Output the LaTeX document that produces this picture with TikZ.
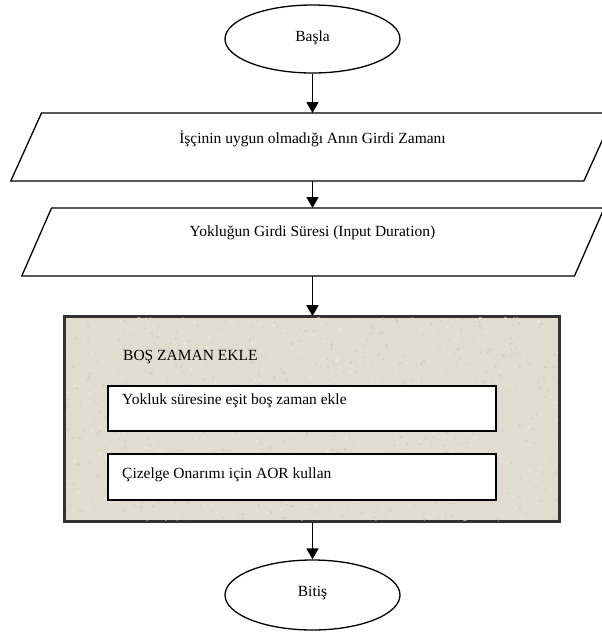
\documentclass[tikz,border=0pt]{standalone}
\usepackage{fontspec}
\setmainfont{Liberation Serif}
\usetikzlibrary{shapes.geometric,arrows.meta,calc}
\definecolor{parchment}{RGB}{226,219,207}
\definecolor{parchmentdark}{RGB}{205,196,181}
\definecolor{parchmentlight}{RGB}{238,233,224}
\definecolor{frameedge}{RGB}{50,50,50}
\begin{document}
\begin{tikzpicture}[x=1pt,y=-1pt,
  every node/.style={font=\fontsize{15.5}{18}\selectfont},
  terminal/.style={draw, ellipse, line width=1.3pt, minimum width=175pt, minimum height=68pt, inner sep=0pt},
  ioarea/.style={rectangle, minimum height=67.5pt, inner sep=0pt},
  ioedge/.style={line width=1.3pt, line join=miter},
  container/.style={rectangle, draw=frameedge, fill=parchment, line width=1.6pt, inner sep=0pt},
  stepbox/.style={rectangle, draw, fill=white, line width=1.5pt, minimum width=388pt, inner sep=0pt},
  plain/.style={inner sep=0pt},
  flow/.style={-{Triangle[length=11pt,width=12pt]}, line width=1.8pt}
]
\useasboundingbox (0,0) rectangle (602,633);
\clip (0,0) rectangle (602,633);

% start / end terminals
\node[terminal] (start) at (312.5,39) {};
\node[plain] (starttxt) at (312.5,38) {Başla};

% first input: slanted parallelogram around an invisible frame
\node[ioarea, minimum width=572.7pt] (in1) at (312.7,147) {};
\draw[ioedge] ($(in1.north west)+(15.35,0)$) -- ($(in1.north east)+(15.35,0)$)
  -- ($(in1.south east)+(-15.35,0)$) -- ($(in1.south west)+(-15.35,0)$) -- cycle;
\node[plain] (in1txt) at (312.5,139) {İşçinin uygun olmadığı Anın Girdi Zamanı};

% second input
\node[ioarea, minimum width=552.3pt] (in2) at (313,242) {};
\draw[ioedge] ($(in2.north west)+(14.85,0)$) -- ($(in2.north east)+(14.85,0)$)
  -- ($(in2.south east)+(-14.85,0)$) -- ($(in2.south west)+(-14.85,0)$) -- cycle;
\node[plain] (in2txt) at (312.5,233) {Yokluğun Girdi Süresi (Input Duration)};

% process container with paper texture
\node[container, minimum width=494pt, minimum height=204pt] (proc) at (312,419) {};
\begin{scope}
  \clip (65.8,317.5) rectangle (558.2,520);
  \pgfmathsetseed{4242}
  \foreach \i in {1,...,700} {
    \pgfmathsetmacro{\px}{65+rnd*494}
    \pgfmathsetmacro{\py}{317+rnd*204}
    \pgfmathsetmacro{\pr}{0.5+rnd*1.1}
    \fill[parchmentdark, opacity=0.55] (\px,\py) circle[radius=\pr];
  }
  \foreach \i in {1,...,500} {
    \pgfmathsetmacro{\px}{65+rnd*494}
    \pgfmathsetmacro{\py}{317+rnd*204}
    \pgfmathsetmacro{\pr}{0.6+rnd*1.3}
    \fill[parchmentlight, opacity=0.6] (\px,\py) circle[radius=\pr];
  }
\end{scope}
\draw[draw=frameedge, line width=1.6pt] (proc.north west) rectangle (proc.south east);
\node[plain, anchor=west] (proctitle) at (123,357) {BOŞ ZAMAN EKLE};

\node[stepbox, minimum height=45pt] (s1) at (302,408.5) {};
\node[plain, anchor=west] (s1txt) at (122,401) {Yokluk süresine eşit boş zaman ekle};
\node[stepbox, minimum height=46pt] (s2) at (302,477) {};
\node[plain, anchor=west] (s2txt) at (122,475) {Çizelge Onarımı için AOR kullan};

\node[terminal, minimum height=70pt] (finish) at (312.5,595) {};
\node[plain] (finishtxt) at (312.5,593) {Bitiş};

% connectors
\draw[flow] (start.south) -- (start.south |- in1.north);
\draw[flow] (start.south |- in1.south) -- (start.south |- in2.north);
\draw[flow] (start.south |- in2.south) -- (start.south |- proc.north);
\draw[flow] (start.south |- proc.south) -- (finish.north);
\end{tikzpicture}
\end{document}
